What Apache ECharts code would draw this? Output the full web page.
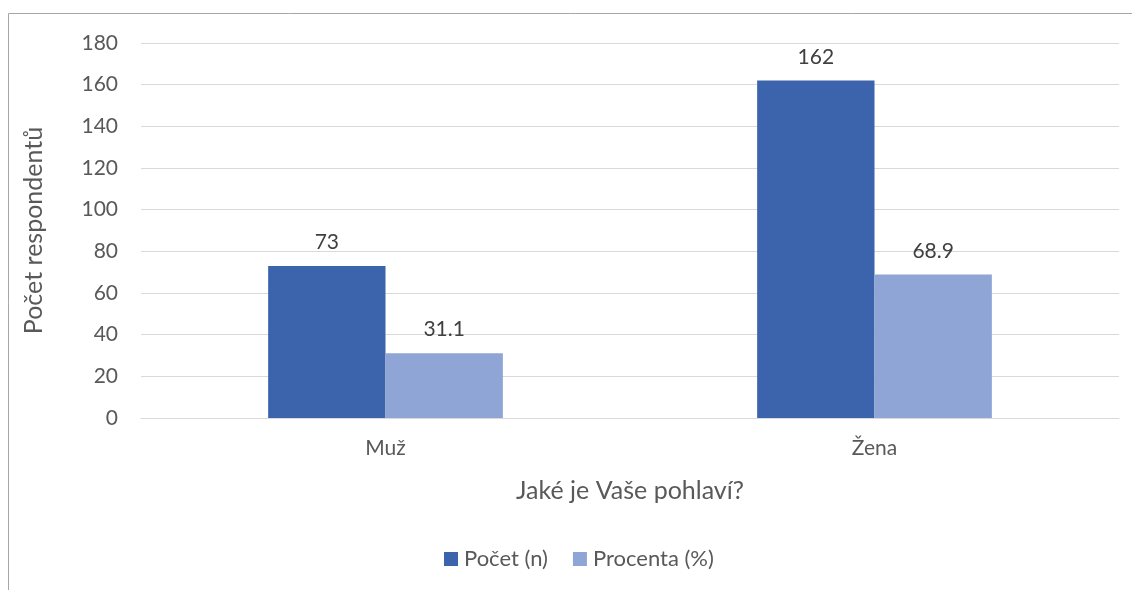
<!DOCTYPE html>
<html>
<head>
<meta charset="utf-8">
<script src="https://cdn.jsdelivr.net/npm/echarts@6/dist/echarts.min.js"></script>
<style>
  html, body { margin: 0; padding: 0; background: #fff; }
  #chart { width: 1132px; height: 590px; }
</style>
</head>
<body>
<div id="chart"></div>
<script>
// data
const categories = ['Muž', 'Žena']
const pocet = [73, 162]
const procenta = [31.1, 68.9]
const seriesNames = ['Počet (n)', 'Procenta (%)']

const font = 'Lato, "Open Sans", sans-serif'

let chart = echarts.init(document.getElementById('chart'))

chart.setOption({
    animation: false,
    textStyle: { fontFamily: font },
    graphic: [{
        type: 'rect',
        shape: { x: 8.5, y: 13.5, width: 1140, height: 600 },
        style: { fill: 'none', stroke: '#a6a6a6', lineWidth: 1 },
        silent: true
    }],
    grid: { left: 141, right: 13, top: 43, bottom: 172 },
    legend: {
        data: seriesNames,
        bottom: 15,
        left: 439,
        itemWidth: 14,
        itemHeight: 14,
        itemGap: 25,
        icon: 'rect',
        textStyle: { fontSize: 22, color: '#595959', fontFamily: font, padding: [0, 0, 0, 1] }
    },
    xAxis: {
        type: 'category',
        data: categories,
        name: 'Jaké je Vaše pohlaví?',
        nameLocation: 'middle',
        nameGap: 60,
        nameTextStyle: { fontSize: 25, color: '#595959', fontFamily: font },
        axisLine: { lineStyle: { color: '#d9d9d9', width: 1 } },
        axisTick: { show: false },
        axisLabel: { fontSize: 21, color: '#595959', margin: 20, fontFamily: font }
    },
    yAxis: {
        type: 'value',
        min: 0,
        max: 180,
        interval: 20,
        name: 'Počet respondentů',
        nameLocation: 'middle',
        nameGap: 95,
        nameTextStyle: { fontSize: 25, color: '#595959', fontFamily: font },
        axisLine: { show: false },
        axisTick: { show: false },
        axisLabel: { fontSize: 21, color: '#595959', margin: 23, fontFamily: font },
        splitLine: { lineStyle: { color: '#d9d9d9', width: 1 } }
    },
    series: [
        {
            name: seriesNames[0],
            type: 'bar',
            data: pocet,
            barGap: '0%',
            barCategoryGap: '52%',
            itemStyle: { color: '#3c64ad' },
            label: { show: true, position: 'top', distance: 13, fontSize: 21, color: '#404040', fontFamily: font }
        },
        {
            name: seriesNames[1],
            type: 'bar',
            data: procenta,
            itemStyle: { color: '#8fa5d6' },
            label: { show: true, position: 'top', distance: 13, fontSize: 21, color: '#404040', fontFamily: font }
        }
    ]
})
</script>
</body>
</html>
